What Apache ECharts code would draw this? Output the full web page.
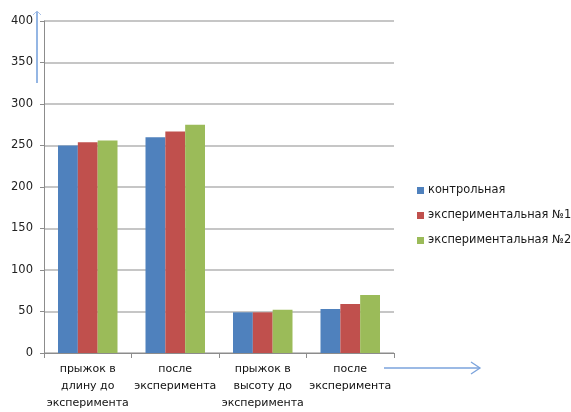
<!DOCTYPE html>
<html>
<head>
<meta charset="utf-8">
<script src="https://cdn.jsdelivr.net/npm/echarts@6/dist/echarts.min.js"></script>
<style>
html,body{margin:0;padding:0;background:#fff;}
#chart{width:571px;height:412px;}
</style>
</head>
<body>
<div id="chart"></div>
<script>
var categories = ["прыжок в\nдлину до\nэксперимента", "после\nэксперимента", "прыжок в\nвысоту до\nэксперимента", "после\nэксперимента"];
var seriesNames = ["контрольная", "экспериментальная №1", "экспериментальная №2"];
var control = [250, 260, 49, 53];
var exp1 = [254, 267, 49, 59];
var exp2 = [256, 275, 52, 70];
var yTicks = [0, 50, 100, 150, 200, 250, 300, 350, 400];

var colors = ["#4F81BD", "#C0504D", "#9BBB59"];
var font = "DejaVu Sans";
var chart = echarts.init(document.getElementById('chart'), null, {renderer: 'canvas'});
var dataSets = [control, exp1, exp2];
chart.setOption({
  animation: false,
  backgroundColor: '#fff',
  color: colors,
  grid: {left: 44, right: 177, top: 21, bottom: 59, containLabel: false},
  legend: {
    orient: 'vertical', left: 412, top: 180,
    itemWidth: 7, itemHeight: 7, itemGap: 14,
    icon: 'rect',
    textStyle: {fontFamily: font, fontSize: 11.4, color: '#1a1a1a', padding: [0,0,0,-1]},
    data: seriesNames
  },
  xAxis: {
    type: 'category', data: categories,
    axisLine: {lineStyle: {color: '#8c8c8c', width: 1}},
    axisTick: {show: true, length: 5, lineStyle: {color: '#8c8c8c'}},
    axisLabel: {fontFamily: font, fontSize: 11, color: '#111', lineHeight: 17, margin: 8, interval: 0}
  },
  yAxis: {
    type: 'value', min: yTicks[0], max: yTicks[yTicks.length-1], interval: 50,
    axisLine: {show: true, lineStyle: {color: '#8c8c8c'}},
    axisTick: {show: true, length: 4, lineStyle: {color: '#8c8c8c'}},
    axisLabel: {fontFamily: font, fontSize: 11.5, color: '#222', margin: 11},
    splitLine: {lineStyle: {color: '#b3b3b3', width: 1.5}}
  },
  series: seriesNames.map(function(n, i){
    return {
      name: n, type: 'bar', data: dataSets[i],
      barGap: '0%', barCategoryGap: '32%',
      itemStyle: {color: colors[i]}
    };
  }),
  graphic: [
    {type: 'line', shape: {x1: 37, y1: 12, x2: 37, y2: 83}, style: {stroke: '#5b8fd6', lineWidth: 1.3}},
    {type: 'polyline', shape: {points: [[33, 15], [37, 11], [41, 15]]}, style: {stroke: '#a9c1e6', lineWidth: 1, fill: null}},
    {type: 'line', shape: {x1: 384, y1: 368, x2: 480, y2: 368}, style: {stroke: '#7ba3dc', lineWidth: 1.3}},
    {type: 'polyline', shape: {points: [[471, 362], [480, 368], [471, 374]]}, style: {stroke: '#7ba3dc', lineWidth: 1.3, fill: null}}
  ]
});
</script>
</body>
</html>
